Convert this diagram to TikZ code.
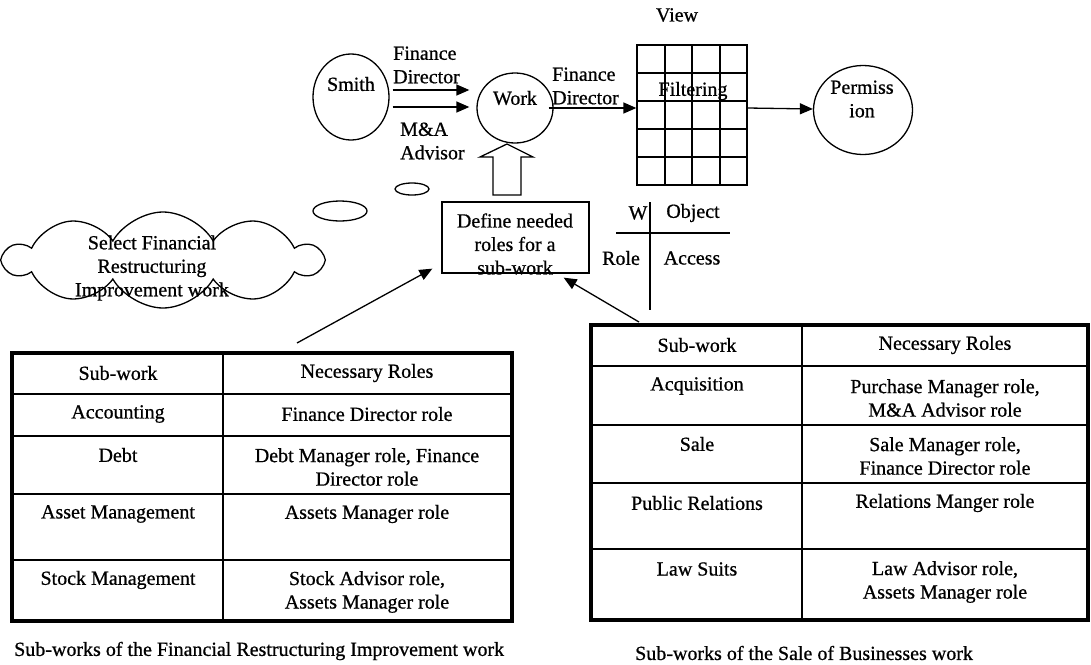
\documentclass[tikz,border=0pt]{standalone}
\usepackage{fontspec}
\setmainfont{Liberation Serif}[FakeBold=0.7]
\usetikzlibrary{shapes.symbols,shapes.geometric,arrows.meta}
\begin{document}
\begin{tikzpicture}[x=1pt,y=-1pt,
  font=\fontsize{20}{23.5}\selectfont,
  txt/.style={inner sep=0pt,align=center},
  oval/.style={draw,ellipse,line width=1.3pt,inner sep=0pt},
  arr/.style={line width=1.3pt,-{Triangle[length=13pt,width=11pt]}},
  thin/.style={line width=1.3pt},
  outer/.style={line width=3.2pt},
  inner/.style={line width=2pt}]
\useasboundingbox (0,0) rectangle (1091,664);

% --- top row ---
\node[oval,minimum width=76,minimum height=86] (smith) at (351,97) {};
\node[txt] (smithl) at (351,84) {Smith};
\node[oval,minimum width=76,minimum height=70] (work) at (515,108) {};
\node[txt] (workl) at (515,98) {Work};
\node[oval,minimum width=99,minimum height=89] (perm) at (863,110) {};
\node[txt] (perml) at (862,99) {Permiss\\ion};

\node[draw,thin,minimum width=110,minimum height=140,inner sep=0pt] (grid) at (692,115) {};
\foreach \x in {665,692,720} \draw[thin] (\x,45) -- (\x,185);
\foreach \y in {73,101,129,157} \draw[thin] (637,\y) -- (747,\y);
\node[txt] (filt) at (693,91) {Filtering};
\node[txt] (view) at (677,15) {View};

\draw[arr] ([xshift=3pt,yshift=7pt]smith.east) -- ([xshift=-7pt,yshift=18pt]work.west);
\draw[arr] ([xshift=3pt,yshift=-10pt]smith.east) -- ([xshift=-7pt,yshift=1pt]work.west);
\node[txt,anchor=west,align=left] (fd1) at (393,65) {Finance\\Director};
\node[txt,anchor=west,align=left] (ma) at (400,141) {M\&A\\Advisor};
\draw[arr] ([xshift=-5pt]work.east) -- ([yshift=7pt]grid.west);
\node[txt,anchor=west,align=left] (fd2) at (552,86) {Finance\\Director};
\draw[arr] ([yshift=7pt]grid.east) -- ([yshift=1pt]perm.west);

% --- define box and hollow arrow ---
\node[draw,thin,minimum width=147,minimum height=71,inner sep=0pt] (defbox) at (515.5,237.5) {};
\node[txt] (defl) at (515,244) {Define needed\\roles for a\\sub-work};
\draw[thin,line join=miter] (493,195) -- (493,157) -- (480,157) -- (507,144) -- (533,157) -- (521,157) -- (521,195) -- cycle;

% --- thought cloud ---
\node[oval,minimum width=34,minimum height=12] (b1) at (412,189) {};
\node[oval,minimum width=54,minimum height=20] (b2) at (340,211) {};
\node[cloud,draw,line width=1.3pt,cloud puffs=10,cloud puff arc=120,cloud ignores aspect,
      minimum width=316,minimum height=96,inner sep=0pt] (cloud) at (163,260) {};
\node[txt] (cloudl) at (152,268) {Select Financial\\Restructuring\\Improvement work};

% --- W / Object / Role / Access ---
\draw[thin] (616,233) -- (730,233);
\draw[thin] (650,202) -- (650,310);
\node[txt] (w) at (638,213) {W};
\node[txt] (obj) at (693,213) {Object};
\node[txt] (role) at (621,258) {Role};
\node[txt] (acc) at (692,258) {Access};

% --- connectors from tables ---
\coordinate (lt) at (297,343);
\coordinate (rt) at (639,322);
\draw[arr] (lt) -- ([shift={(-9,-5)}]defbox.south west);
\draw[arr] (rt) -- ([shift={(-26,4)}]defbox.south east);

% --- left table ---
\draw[inner] (223,353) -- (223,621);
\foreach \y in {394,436,494,560} \draw[inner] (12,\y) -- (512,\y);
\draw[outer] (12,353) rectangle (512,621);
\node[txt] (l11) at (118,373) {Sub-work};
\node[txt] (l12) at (367,373) {Necessary Roles};
\node[txt] (l21) at (118,414) {Accounting};
\node[txt] (l22) at (367,414) {Finance Director role};
\node[txt] (l31) at (118,455) {Debt};
\node[txt] (l32) at (367,467) {Debt Manager role, Finance\\Director role};
\node[txt] (l41) at (118,514) {Asset Management};
\node[txt] (l42) at (367,514) {Assets Manager role};
\node[txt] (l51) at (118,580) {Stock Management};
\node[txt] (l52) at (367,592) {Stock Advisor role,\\Assets Manager role};
\node[txt,anchor=west] (capl) at (14,651) {Sub-works of the Financial Restructuring Improvement work};

% --- right table ---
\draw[inner] (802,325) -- (802,620);
\foreach \y in {366,425,483,549} \draw[inner] (591,\y) -- (1088,\y);
\draw[outer] (591,325) rectangle (1088,620);
\node[txt] (r11) at (697,345) {Sub-work};
\node[txt] (r12) at (945,345) {Necessary Roles};
\node[txt] (r21) at (697,386) {Acquisition};
\node[txt] (r22) at (945,398) {Purchase Manager role,\\M\&A Advisor role};
\node[txt] (r31) at (697,444) {Sale};
\node[txt] (r32) at (945,456) {Sale Manager role,\\Finance Director role};
\node[txt] (r41) at (697,503) {Public Relations};
\node[txt] (r42) at (945,503) {Relations Manger role};
\node[txt] (r51) at (697,569) {Law Suits};
\node[txt] (r52) at (945,582) {Law Advisor role,\\Assets Manager role};
\node[txt,anchor=west] (capr) at (635,653) {Sub-works of the Sale of Businesses work};
\end{tikzpicture}
\end{document}
